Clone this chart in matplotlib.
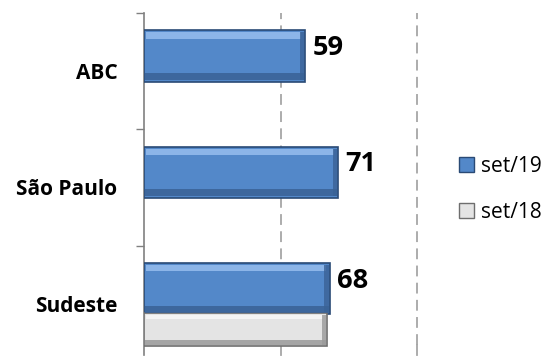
import matplotlib
matplotlib.use("Agg")
import matplotlib.pyplot as plt
import numpy as np
from matplotlib.patches import Patch

categories = ["ABC", "São Paulo", "Sudeste"]
set19 = [59, 71, 68]
set18 = [np.nan, np.nan, 67]
series_labels = ["set/19", "set/18"]

plt.rcParams['font.family'] = ['Open Sans', 'DejaVu Sans']

W, H = 552, 356
fig = plt.figure(figsize=(W/100, H/100), dpi=100)
ax_left, ax_right, ax_top, ax_bot = 144, 417, 13, 355
ax = fig.add_axes([ax_left/W, 1-ax_bot/H, (ax_right-ax_left)/W, (ax_bot-ax_top)/H])

y = np.arange(len(categories))
h19, h18 = 0.44, 0.28
off19, off18 = -0.13, 0.222

blue_face, blue_light, blue_dark, blue_edge = '#5388C9', '#8CB5E8', '#3A6296', '#2A4A75'
gray_face, gray_light, gray_dark, gray_edge = '#E4E4E4', '#F4F4F4', '#9A9A9A', '#6E6E6E'


def bevel_bars(pos, vals, hh, face, light, dark, edge):
    vals = np.asarray(vals, dtype=float)
    ax.barh(pos, vals, height=hh, color=face, edgecolor=edge, linewidth=1.2, zorder=3)
    ax.barh(pos - hh*0.40, vals - 2.0, left=0.6, height=hh*0.12, color=light, linewidth=0, zorder=4)
    ax.barh(pos + hh*0.40, vals - 0.6, left=0.3, height=hh*0.14, color=dark, linewidth=0, zorder=4, alpha=0.85)
    ax.barh(pos, np.full_like(vals, 1.6), left=vals - 1.9, height=hh*0.92, color=dark, linewidth=0, zorder=4, alpha=0.8)


bevel_bars(y + off19, set19, h19, blue_face, blue_light, blue_dark, blue_edge)
bevel_bars(y + off18, set18, h18, gray_face, gray_light, gray_dark, gray_edge)

for yi, v in zip(y, set19):
    ax.text(v + 2.8, yi + off19 - 0.07, f"{v}", fontsize=19.5, fontweight='bold', ha='left', va='center', zorder=5)

ax.set_xlim(0, 100)
ax.set_ylim(2.44, -0.5)
ax.set_xticks([])
for xv in [50, 100]:
    ax.axvline(xv, ymin=0.03, ymax=1, linestyle=(0, (6, 3.5)), color='#A6A6A6', linewidth=1.3, zorder=0, clip_on=False)
    ax.axvline(xv, ymin=0, ymax=0.03, color='#A6A6A6', linewidth=1.3, zorder=0, clip_on=False)

ax.set_yticks(y)
ax.set_yticklabels(categories, fontsize=15, fontweight='bold')
ax.tick_params(axis='y', length=0, pad=19)
ax.set_yticks([-0.5, 0.5, 1.5], minor=True)
ax.tick_params(axis='y', which='minor', length=6, color='#808080', width=1)

for s in ['top', 'right', 'bottom']:
    ax.spines[s].set_visible(False)
ax.spines['left'].set_color('#808080')
ax.spines['left'].set_linewidth(1.2)

handles = [Patch(facecolor=blue_face, edgecolor=blue_edge), Patch(facecolor=gray_face, edgecolor=gray_edge)]
fig.legend(handles, series_labels, loc='upper left', bbox_to_anchor=(440/W, 1-137/H), frameon=False,
           fontsize=15, handlelength=0.75, handleheight=0.7, handletextpad=0.3, labelspacing=1.2)

fig.savefig("out.png", dpi=100)
